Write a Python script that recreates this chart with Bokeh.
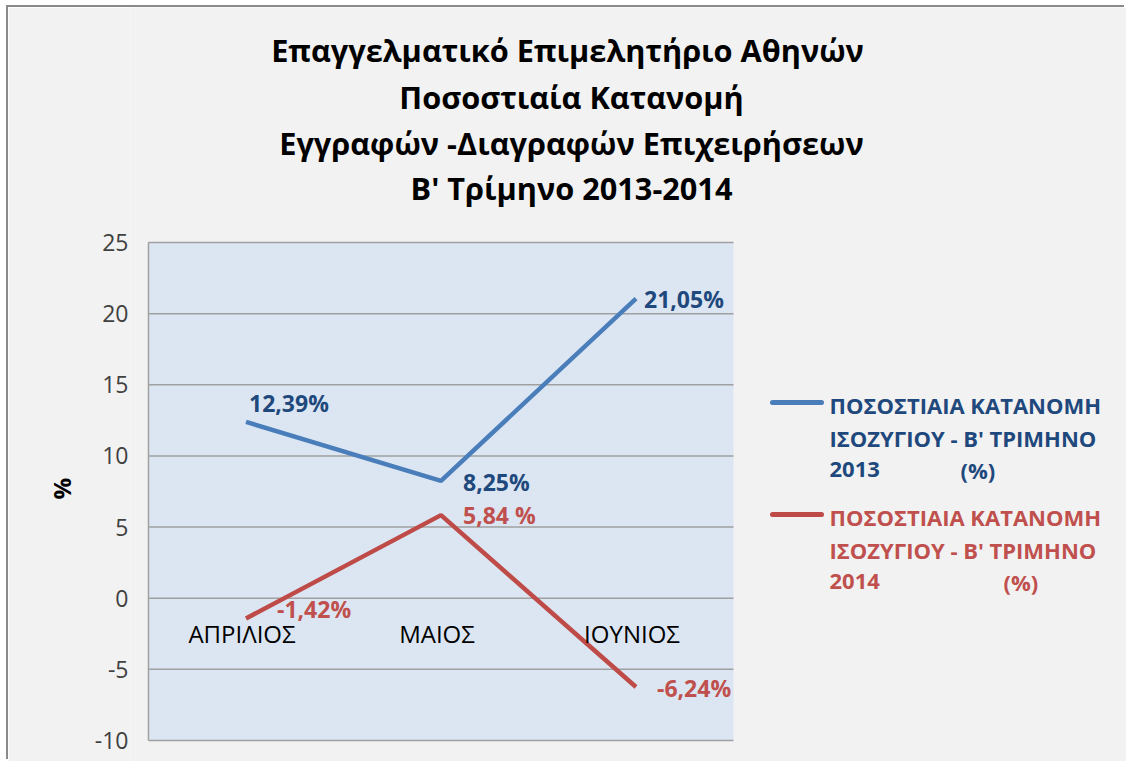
import math
from bokeh.plotting import figure
from bokeh.models import (Range1d, ColumnDataSource, FixedTicker, Title,
                          CustomJSTickFormatter)
from bokeh.core.properties import value
from bokeh.embed import file_html
from bokeh.resources import INLINE

# ---------------- data ----------------
months = ["ΑΠΡΙΛΙΟΣ", "ΜΑΙΟΣ", "ΙΟΥΝΙΟΣ"]
values_2013 = [12.39, 8.25, 21.05]
values_2014 = [-1.42, 5.84, -6.24]
labels_2013 = ["12,39%", "8,25%", "21,05%"]
labels_2014 = ["-1,42%", "5,84 %", "-6,24%"]
y_ticks = [-10, -5, 0, 5, 10, 15, 20, 25]
title_lines = ["Επαγγελματικό Επιμελητήριο  Αθηνών",
               "Ποσοστιαία Κατανομή",
               "Εγγραφών -Διαγραφών Επιχειρήσεων",
               "Β' Τρίμηνο 2013-2014"]
legend_2013 = ["ΠΟΣΟΣΤΙΑΙΑ ΚΑΤΑΝΟΜΗ", "ΙΣΟΖΥΓΙΟΥ - Β' ΤΡΙΜΗΝΟ", "2013", "(%)"]
legend_2014 = ["ΠΟΣΟΣΤΙΑΙΑ ΚΑΤΑΝΟΜΗ", "ΙΣΟΖΥΓΙΟΥ - Β' ΤΡΙΜΗΝΟ", "2014", "(%)"]
y_label = "%"

# ---------------- styles / layout ----------------
FONT = "Open Sans"
BLUE = "#4a7ebb"
RED = "#be4b48"
BLUE_TXT = "#1f497d"
RED_TXT = "#c0504d"
GRID = "#a0a0a0"
PLOT_BG = "#dce6f2"
CHART_BG = "#f2f2f2"

OX, OY = 8, 7                      # chart offset inside the page (white margin + border)
W, H = 1118, 754
PA_L, PA_R, PA_T, PA_B = 148, 733, 242, 740   # plot-area edges (page pixels)
Y0, Y1 = y_ticks[0], y_ticks[-1]
FRAME_L = 130                      # page x where the frame starts (tick labels end)
NCAT = len(months)
xs = (PA_R - PA_L) / NCAT          # px per category
ys = (PA_B - PA_T) / (Y1 - Y0)     # px per y unit

def dx(px):
    return (px - PA_L) / xs

def dy(py):
    return Y1 - (py - PA_T) / ys

p = figure(width=W, height=H,
           x_range=Range1d(dx(FRAME_L), dx(OX + W)), y_range=Range1d(dy(OY + H), dy(OY)),
           x_axis_location=None, output_backend="svg", toolbar_location=None,
           min_border_left=FRAME_L - OX, min_border_right=0,
           min_border_top=0, min_border_bottom=0)
p.styles = {"margin-left": f"{OX}px", "margin-top": f"{OY}px",
            "box-shadow": "-2px -2px 0 0 #8a8a8a"}
p.title = None
p.background_fill_color = CHART_BG
p.border_fill_color = CHART_BG
p.outline_line_color = None
p.xgrid.grid_line_color = None
p.ygrid.grid_line_color = None

ya = p.yaxis[0]
ya.ticker = FixedTicker(ticks=y_ticks)
ya.formatter = CustomJSTickFormatter(code="return tick.toString()")
ya.major_tick_line_color = None
ya.minor_tick_line_color = None
ya.major_tick_out = 0
ya.major_tick_in = 0
ya.axis_line_color = None
ya.major_label_text_font = FONT
ya.major_label_text_font_size = "23px"
ya.major_label_text_color = "#404040"
ya.major_label_standoff = 2

# rotated "%" axis title, left of the tick labels
PCT_W = 22
p.add_layout(Title(text=y_label, text_font=FONT, text_font_size="24px",
                   text_font_style="bold", text_color="#000000",
                   align="left", offset=(OY + H) - (488 + PCT_W / 2), standoff=27), "left")

# ---------------- plot area ----------------
p.quad(left=0, right=NCAT, bottom=Y0, top=Y1, fill_color=PLOT_BG, line_color=None)
p.segment(x0=[0] * len(y_ticks), x1=[NCAT] * len(y_ticks), y0=y_ticks, y1=y_ticks,
          line_color=GRID, line_width=1.5)
p.segment(x0=[0], x1=[0], y0=[Y0], y1=[Y1], line_color=GRID, line_width=1.5)

# ---------------- series ----------------
xcat = [i + 0.5 for i in range(NCAT)]
src13 = ColumnDataSource(dict(x=xcat, y=values_2013, t=labels_2013,
                              xo=[3, 22, 8], yo=[-19, 1, 0]))
src14 = ColumnDataSource(dict(x=xcat, y=values_2014, t=labels_2014,
                              xo=[31, 22, 21], yo=[-9, 0, 1]))
p.line("x", "y", source=src13, line_color=BLUE, line_width=4.5)
p.line("x", "y", source=src14, line_color=RED, line_width=4.5)
for src, col in ((src13, BLUE_TXT), (src14, RED_TXT)):
    p.text("x", "y", text="t", source=src, x_offset="xo", y_offset="yo",
           text_font=value(FONT), text_font_style="bold", text_font_size="23px",
           text_color=col, text_align="left", text_baseline="middle")

# category labels just below the zero line
p.text(x=xcat, y=[0] * NCAT, text=months, y_offset=35, x_offset=-4,
       text_font=value(FONT), text_font_size="24px", text_color="#000000",
       text_align="center", text_baseline="middle")

# ---------------- chart title ----------------
p.text(x=[dx(571)] * 4, y=[dy(v) for v in (49, 96, 142, 187)], text=title_lines,
       text_font=value(FONT), text_font_size="30.7px", text_font_style="bold",
       text_color="#000000", text_align="center", text_baseline="middle")

# ---------------- legend ----------------
def legend_block(lines, color, txtcolor, py0, pct_x):
    p.line(x=[dx(772), dx(821)], y=[dy(py0 - 2)] * 2, line_color=color,
           line_width=5, line_cap="round")
    p.text(x=[dx(829), dx(829), dx(829), dx(pct_x)],
           y=[dy(py0), dy(py0 + 33), dy(py0 + 65), dy(py0 + 65)],
           text=lines, text_font=value(FONT), text_font_size="22px",
           text_font_style="bold", text_color=txtcolor, text_align="left",
           text_baseline="middle")

legend_block(legend_2013, BLUE, BLUE_TXT, 404, 960)
legend_block(legend_2014, RED, RED_TXT, 516, 1003)

open("out.html", "w").write(file_html(p, INLINE))
